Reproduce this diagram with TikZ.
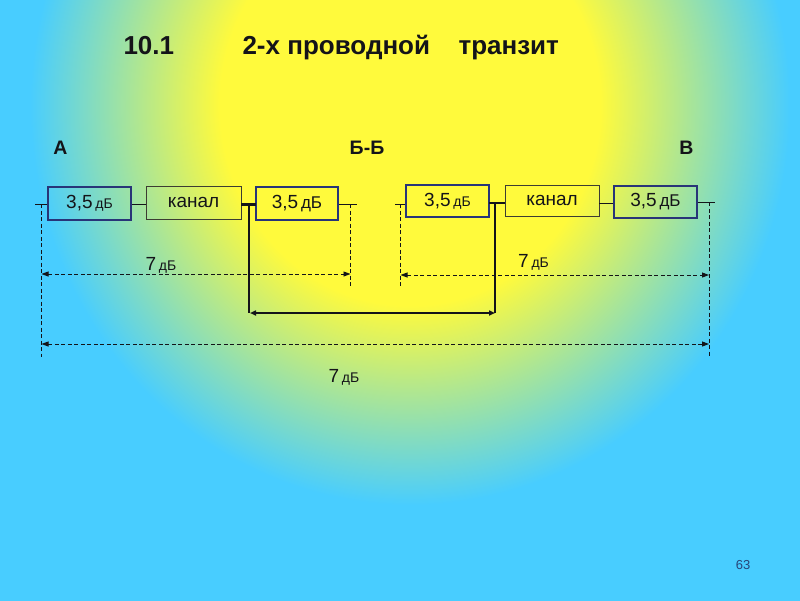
\documentclass[tikz,border=0pt]{standalone}
\usepackage{fontspec}
\setmainfont{Liberation Sans}
\usetikzlibrary{arrows.meta}
\definecolor{bgcyan}{RGB}{72,205,255}
\definecolor{bgyellow}{RGB}{255,250,60}
\definecolor{boxblue}{RGB}{40,52,120}
\definecolor{thingray}{RGB}{60,60,50}
\definecolor{ink}{RGB}{20,20,25}
\definecolor{pagenum}{RGB}{40,70,120}
\pgfdeclareradialshading{glow}{\pgfpoint{0bp}{0bp}}{color(0bp)=(bgyellow); color(5bp)=(bgyellow); color(10bp)=(bgcyan); color(80bp)=(bgcyan)}
\newcommand{\bigtxt}[1]{{\fontsize{19}{22}\selectfont #1}}
\newcommand{\smltxt}[1]{{\fontsize{14}{16}\selectfont #1}}
\tikzset{
  thickbox/.style={draw=boxblue, line width=2.3pt, inner sep=0pt, text=ink},
  thinbox/.style={draw=thingray, line width=0.9pt, inner sep=0pt, text=ink, font=\fontsize{19}{22}\selectfont},
  wire/.style={draw=ink, line width=1pt},
  heavy/.style={draw=ink, line width=2.6pt},
  guide/.style={draw=ink, line width=0.9pt, dash pattern=on 4pt off 2.5pt},
  dimline/.style={guide, {Triangle[length=7pt,width=5pt]}-{Triangle[length=7pt,width=5pt]}},
  ttl/.style={anchor=base west, font=\bfseries\fontsize{26}{30}\selectfont, text=ink},
  lbl/.style={anchor=base, font=\bfseries\fontsize{19.5}{22}\selectfont, text=ink},
  dimtxt/.style={anchor=base, text=ink, inner sep=0pt}
}
\begin{document}
\begin{tikzpicture}[x=1pt,y=-1pt]
\useasboundingbox (0,0) rectangle (800,600);
\fill[bgcyan] (0,0) rectangle (800,600);
\begin{scope}
\clip (0,0) rectangle (800,600);
\shade[shading=glow] (410,105) ellipse [x radius=950, y radius=1000];
\end{scope}

% title
\node[ttl] (t1) at (120,54) {10.1};
\node[ttl] (t2) at (239,54) {2-х проводной};
\node[ttl] (t3) at (455,54) {транзит};

% point labels
\node[lbl] (pA) at (60.5,154) {А};
\node[lbl] (pB) at (367,154) {Б-Б};
\node[lbl] (pC) at (686.5,154) {В};

% boxes
\node[thickbox, minimum width=83pt, minimum height=33pt] (b1) at (89.5,203.5) {\bigtxt{3,5} \smltxt{дБ}};
\node[thinbox, minimum width=95pt, minimum height=33pt] (b2) at (193.5,202.5) {канал};
\node[thickbox, minimum width=82pt, minimum height=33pt] (b3) at (297,203.5) {\bigtxt{3,5} {\fontsize{17}{20}\selectfont дБ}};
\node[thickbox, minimum width=83pt, minimum height=32pt] (b4) at (447.5,201) {\bigtxt{3,5} \smltxt{дБ}};
\node[thinbox, minimum width=94pt, minimum height=31pt] (b5) at (552,200.5) {канал};
\node[thickbox, minimum width=83pt, minimum height=32pt] (b6) at (655.5,202) {\bigtxt{3,5} {\fontsize{17}{20}\selectfont дБ}};

% coordinates
\coordinate (lend) at (35,204);
\coordinate (lg) at (41.5,204);
\coordinate (lgb) at (41.5,357);
\coordinate (m1end) at (357,204);
\coordinate (m1g) at (350.5,204);
\coordinate (m1gb) at (350.5,288);
\coordinate (m2end) at (395,204);
\coordinate (m2g) at (400.5,204);
\coordinate (m2gb) at (400.5,288);
\coordinate (rend) at (715,202);
\coordinate (rg) at (709,202);
\coordinate (rgb) at (709,357);
\coordinate (h1) at (241,204.5);
\coordinate (h2) at (256,204.5);
\coordinate (v1t) at (249,204.5);
\coordinate (v1b) at (249,313);
\coordinate (h3) at (489,203);
\coordinate (h4) at (505,203);
\coordinate (v2t) at (495,203);
\coordinate (v2b) at (495,313);
\coordinate (hb1) at (250,313);

% thin wires
\draw[wire] (lend) -- (lend -| b1.west);
\draw[wire] (b1.east |- 0,204) -- (b2.west |- 0,204);
\draw[wire] (b3.east |- m1end) -- (m1end);
\draw[wire] (m2end) -- (b4.west |- m2end);
\draw[wire] (b5.east |- 0,203) -- (b6.west |- 0,203);
\draw[wire] (b6.east |- rend) -- (rend);

% heavy link
\draw[heavy] (h1) -- (h2);
\draw[heavy] (h3) -- (h4);
\draw[heavy] (v1t) -- (v1b);
\draw[heavy] (v2t) -- (v2b);
\draw[heavy, {Triangle[length=6pt,width=5pt]}-{Triangle[length=6pt,width=5pt]}] (hb1) -- (v2b);

% guides
\draw[guide] (lg) -- (lgb);
\draw[guide] (m1g) -- (m1gb);
\draw[guide] (m2g) -- (m2gb);
\draw[guide] (rg) -- (rgb);

% dimension lines
\coordinate (d1a) at (41.5,274);
\coordinate (d1b) at (350.5,274);
\coordinate (d2a) at (400.5,275);
\coordinate (d2b) at (709,275);
\coordinate (d3a) at (41.5,344);
\coordinate (d3b) at (709,344);
\draw[dimline] (d1a) -- (d1b);
\draw[dimline] (d2a) -- (d2b);
\draw[dimline] (d3a) -- (d3b);

\node[dimtxt] (l1) at (161,270) {\bigtxt{7} \smltxt{дБ}};
\node[dimtxt] (l2) at (533.5,267) {\bigtxt{7} \smltxt{дБ}};
\node[dimtxt] (l3) at (344,382) {\bigtxt{7} \smltxt{дБ}};

\node[anchor=base, text=pagenum, font=\fontsize{13}{15}\selectfont] (pg) at (743,569) {63};
\end{tikzpicture}
\end{document}
